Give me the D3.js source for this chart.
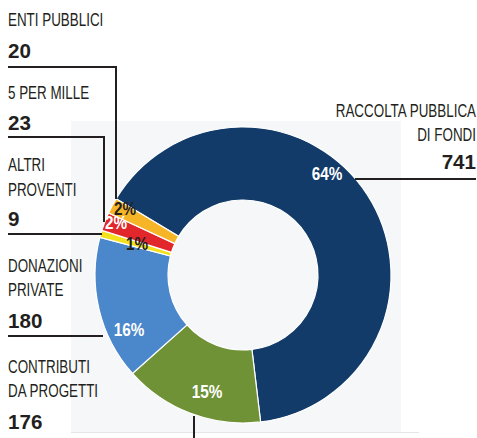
<!DOCTYPE html>
<html><head><meta charset="utf-8">
<script src="https://cdn.jsdelivr.net/npm/d3@7"></script>
<style>
body{margin:0;background:#fff;}
svg{display:block;}
</style></head>
<body>
<svg id="c" width="477" height="438"></svg>
<script>
// ---- data ----
const categories = ["RACCOLTA PUBBLICA DI FONDI","CONTRIBUTI DA PROGETTI","DONAZIONI PRIVATE","ALTRI PROVENTI","5 PER MILLE","ENTI PUBBLICI"];
const values = [741, 176, 180, 9, 23, 20];
const percentLabels = ["64%","15%","16%","1%","2%","2%"];
const colors = ["#133b69","#6f9236","#4b87cb","#f4e11e","#e1262c","#f6b526"];

// ---- layout (positions/styles only) ----
const cx = 243, cy = 275, rOuter = 148, rInner = 75;
const startDeg = -59;
const ink = "#231f20";
const FONT = "'Liberation Sans',Arial,sans-serif";

const nameLayout = [
  {lines:["RACCOLTA PUBBLICA","DI FONDI"], x:476, ys:[117,141], vy:169, anchor:"end"},
  {lines:["CONTRIBUTI","DA PROGETTI"], x:8, ys:[373,397], vy:429, anchor:"start"},
  {lines:["DONAZIONI","PRIVATE"], x:8, ys:[272,296], vy:328, anchor:"start"},
  {lines:["ALTRI","PROVENTI"], x:8, ys:[171,196], vy:226, anchor:"start"},
  {lines:["5 PER MILLE"], x:8, ys:[99], vy:130, anchor:"start"},
  {lines:["ENTI PUBBLICI"], x:8, ys:[26], vy:58, anchor:"start"}
];
const leaders = [
  [[355,179],[476,179]],
  [[194,416],[194,440]],
  [[8,336],[103,336]],
  [[8,234],[102,234]],
  [[8,137],[104,137],[104,222]],
  [[8,67],[116,67],[116,199]]
];
const pctLayout = [
  {x:327, y:180, fill:"#fff"},
  {x:207, y:398, fill:"#fff"},
  {x:129, y:336, fill:"#fff"},
  {x:137, y:250, fill:ink},
  {x:116, y:229, fill:"#fff"},
  {x:125, y:215, fill:ink}
];

const svg = d3.select("#c");

svg.append("rect").attr("x",71).attr("y",121).attr("width",330).attr("height",311).attr("fill","#f6f7f9");
svg.append("line").attr("x1",71).attr("x2",419).attr("y1",432.5).attr("y2",432.5).attr("stroke","#e4e6ea").attr("stroke-width",1);

const pie = d3.pie().sort(null).value(d=>d)
  .startAngle(startDeg*Math.PI/180).endAngle(startDeg*Math.PI/180 + 2*Math.PI);
const arcs = pie(values);
const arc = d3.arc().innerRadius(rInner).outerRadius(rOuter);

const g = svg.append("g").attr("transform",`translate(${cx},${cy})`);
g.selectAll("path").data(arcs).join("path")
  .attr("d",arc)
  .attr("fill",(d,i)=>colors[i])
  .attr("stroke","#fff").attr("stroke-width",1.2);

const line = d3.line();
svg.selectAll("path.leader").data(leaders).join("path")
  .attr("class","leader").attr("d",line)
  .attr("fill","none").attr("stroke",ink).attr("stroke-width",2);

function ctext(x, y, t, size, weight, sx, anchor, fill){
  svg.append("text")
    .attr("transform",`translate(${x},${y}) scale(${sx},1)`)
    .attr("text-anchor",anchor)
    .attr("font-family",FONT).attr("font-size",size).attr("font-weight",weight)
    .attr("fill",fill).text(t);
}

nameLayout.forEach((L,i)=>{
  L.lines.forEach((t,j)=> ctext(L.x, L.ys[j], t, 18, "normal", 0.745, L.anchor, ink));
  ctext(L.x, L.vy, values[i], 21, "bold", 0.98, L.anchor, ink);
});

percentLabels.forEach((t,i)=>{
  const p = pctLayout[i];
  ctext(p.x, p.y, t, 18, "bold", 0.85, "middle", p.fill);
});
</script>
</body></html>
